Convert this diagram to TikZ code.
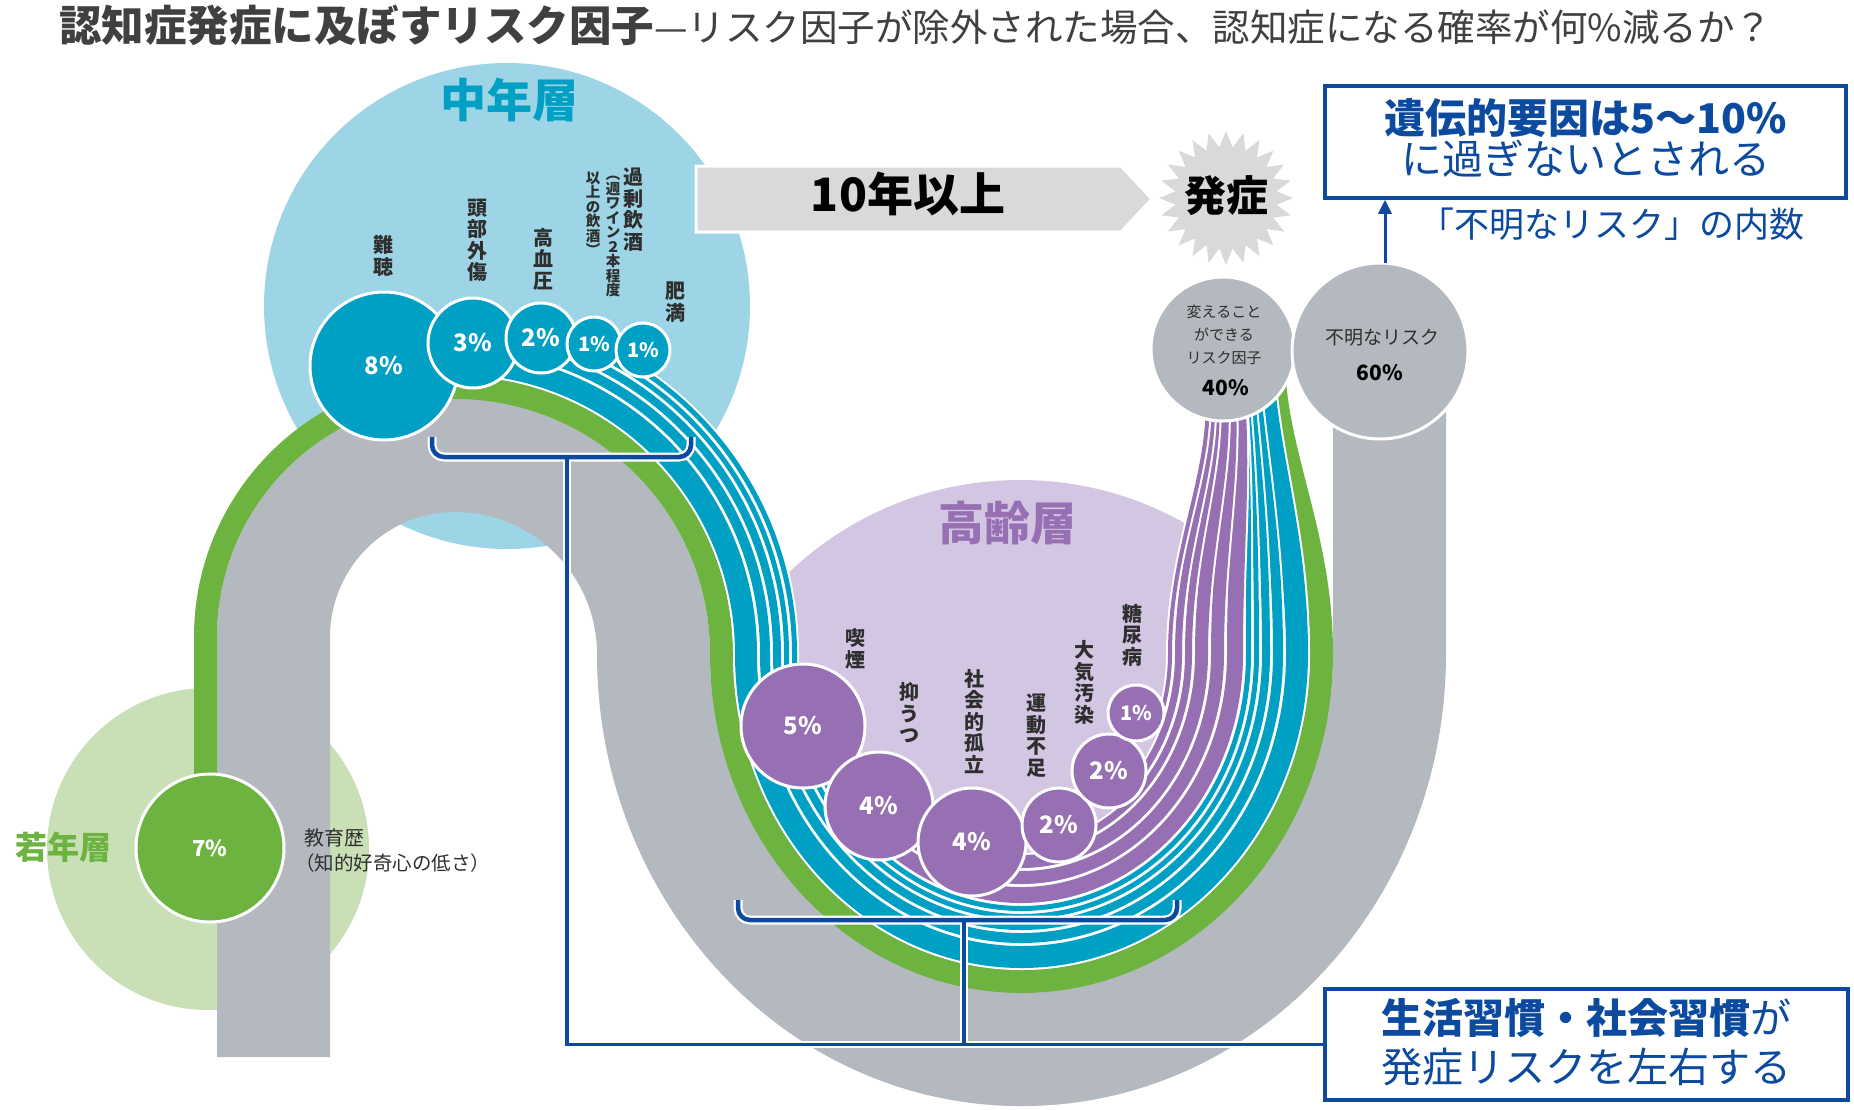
\documentclass[tikz,border=0pt]{standalone}
\usepackage{fontspec}
\setmainfont{Noto Sans CJK JP}
\usetikzlibrary{arrows.meta}
\definecolor{cyanb}{HTML}{00A0C4}
\definecolor{lblue}{HTML}{9DD5E6}
\definecolor{gr}{HTML}{6DB33F}
\definecolor{lgr}{HTML}{C9E0B6}
\definecolor{pu}{HTML}{9670B3}
\definecolor{lav}{HTML}{D3C6E2}
\definecolor{gb}{HTML}{B3B9BF}
\definecolor{ag}{HTML}{D9D9D9}
\definecolor{nb}{HTML}{0B4A9E}
\definecolor{tx}{HTML}{2E2E2E}
\definecolor{tg}{HTML}{404040}

\newcommand\tailpath[1]{.. controls ({1333-#1},-544) and ({1288-0.45*#1},-470) .. ({1280-0.45*#1},-385)}
\newcommand\bowlpath[1]{arc[start angle=180,end angle=360,x radius={311.5-#1},y radius={339-#1}]}
\newcommand\cyanpath[2]{({455+(255+#1)*cos(#2)},{-654+(255+#1)*sin(#2)}) arc[start angle=#2,end angle=0,radius={255+#1}] \bowlpath{#1} \tailpath{#1}}
\newcommand\purpath[2]{({1021.5+(311.5-#1)*cos(#2)},{-654+(339-#1)*sin(#2)}) arc[start angle=#2,end angle=360,x radius={311.5-#1},y radius={339-#1}] \tailpath{#1}}
\newcommand\mystrand[3]{\draw[white,line width={#2pt+4pt}] #3; \draw[#1,line width=#2pt] #3;}

\begin{document}
\begin{tikzpicture}[x=1pt,y=1pt,
  pc/.style={circle,draw=white,line width=3pt,inner sep=0,text=white,font=\bfseries\fontsize{24}{24}\selectfont},
  vlab/.style={align=center,inner sep=0,text=tx,font=\bfseries\fontsize{20}{21.5}\selectfont},
  vsmall/.style={align=center,inner sep=0,text=tx,font=\bfseries\fontsize{14.5}{14.5}\selectfont},
  brk/.style={nb,line width=4.5pt,rounded corners=12pt},
  brkw/.style={white,line width=9pt,rounded corners=12pt},
  conn/.style={nb,line width=3.5pt},
  connw/.style={white,line width=7.5pt},
  bluebox/.style={draw=nb,line width=3.5pt,fill=white,inner sep=0}]

\useasboundingbox (0,0) rectangle (1854,-1109);
\fill[white] (0,0) rectangle (1854,-1109);

% age zones
\fill[lgr] (208,-849) circle[radius=161];
\fill[lblue] (507,-306) circle[radius=243];
\begin{scope}
\clip (1021.5,-654) ellipse[x radius=424.5,y radius=452];
\fill[lav] (1020,-815) circle[radius=335];
\end{scope}

% gray band (unknown risk)
\draw[gb,line width=113pt] (273.5,-1057) -- (273.5,-637)
  arc[start angle=180,end angle=90,radius=181.5]
  arc[start angle=90,end angle=0,radius=198.5]
  arc[start angle=180,end angle=360,x radius=368,y radius=395.5] -- (1389.5,-351);

% green band (young)
\draw[gr,line width=23pt] (205.5,-848) -- (205.5,-637)
  arc[start angle=180,end angle=90,radius=249.5]
  arc[start angle=90,end angle=0,radius=266.5] \bowlpath{11.5} \tailpath{11.5};

% cyan strands (midlife)
\mystrand{cyanb}{22}{({455+274*cos(104.7)},{-637+274*sin(104.7)}) arc[start angle=104.7,end angle=90,radius=274] arc[start angle=90,end angle=0,radius=291] \bowlpath{36} \tailpath{36}}
\mystrand{cyanb}{10}{\cyanpath{55}{86.7}}
\mystrand{cyanb}{8}{\cyanpath{67}{74.8}}
\mystrand{cyanb}{5}{\cyanpath{76.5}{65.8}}
\mystrand{cyanb}{5}{\cyanpath{84.5}{58.3}}

% purple strands (elderly)
\mystrand{pu}{16}{\purpath{98}{190}}
\mystrand{pu}{13}{\purpath{115.5}{223}}
\mystrand{pu}{13}{\purpath{131.5}{253}}
\mystrand{pu}{7}{\purpath{144.5}{284}}
\mystrand{pu}{7}{\purpath{154.5}{311}}
\mystrand{pu}{4}{\purpath{163}{336.5}}

% circles
\node[pc,fill=gr,minimum size=148pt,font=\bfseries\fontsize{22}{22}\selectfont] (c7) at (210,-848) {7\%};
\node[pc,fill=cyanb,minimum size=148pt] (c8) at (384,-366) {8\%};
\node[pc,fill=cyanb,minimum size=90pt] (c3) at (473,-343) {3\%};
\node[pc,fill=cyanb,minimum size=70pt] (c2) at (541,-338) {2\%};
\node[pc,fill=cyanb,minimum size=54pt,font=\bfseries\fontsize{20}{20}\selectfont] (c1a) at (594,-344) {1\%};
\node[pc,fill=cyanb,minimum size=54pt,font=\bfseries\fontsize{20}{20}\selectfont] (c1b) at (643,-350) {1\%};
\node[pc,fill=pu,minimum size=124pt] (e5) at (803,-726) {5\%};
\node[pc,fill=pu,minimum size=108pt] (e4a) at (879,-806) {4\%};
\node[pc,fill=pu,minimum size=108pt] (e4b) at (972,-842) {4\%};
\node[pc,fill=pu,minimum size=74pt] (e2a) at (1059,-825) {2\%};
\node[pc,fill=pu,minimum size=74pt] (e2b) at (1109,-771) {2\%};
\node[pc,fill=pu,minimum size=56pt,font=\bfseries\fontsize{20}{20}\selectfont] (e1) at (1136,-713) {1\%};
\node[pc,fill=gb,minimum size=144pt] (c40) at (1223,-349) {};
\node[pc,fill=gb,minimum size=176pt] (c60) at (1380,-351) {};
\node[align=center,inner sep=0,text=tx,font=\fontsize{15}{23}\selectfont] (c40t) at (1224,-335) {変えること\\ができる\\リスク因子};
\node[inner sep=0,text=black,font=\bfseries\fontsize{21}{21}\selectfont] (c40p) at (1226,-388) {40\%};
\node[inner sep=0,text=tx,font=\fontsize{19}{19}\selectfont] (c60t) at (1382,-338) {不明なリスク};
\node[inner sep=0,text=black,font=\bfseries\fontsize{21}{21}\selectfont] (c60p) at (1380,-373) {60\%};

% zone titles
\node[inner sep=0,text=cyanb,font=\bfseries\fontsize{46}{46}\selectfont] (mid) at (509,-100) {中年層};
\node[inner sep=0,text=pu,font=\bfseries\fontsize{46}{46}\selectfont] (eld) at (1007,-523) {高齢層};
\node[inner sep=0,text=gr,font=\bfseries\fontsize{32}{32}\selectfont] (yng) at (63,-847) {若年層};
\node[anchor=west,inner sep=0,text=tx,font=\fontsize{20}{20}\selectfont] (edu1) at (304,-838) {教育歴};
\node[anchor=west,inner sep=0,text=tx,font=\fontsize{19.5}{20}\selectfont] (edu2) at (295,-863) {（知的好奇心の低さ）};

% vertical labels midlife
\node[vlab] (l8) at (383,-256) {難\\聴};
\node[vlab] (l3) at (477,-240.5) {頭\\部\\外\\傷};
\node[vlab] (l2) at (543,-259) {高\\血\\圧};
\node[vlab] (l1a) at (633,-209.5) {過\\剰\\飲\\酒};
\node[vsmall] (l1b) at (613,-237) {︵\\週\\ワ\\イ\\ン\\２\\本\\程\\度};
\node[vsmall] (l1c) at (593,-213.5) {以\\上\\の\\飲\\酒\\︶};
\node[vlab] (l1d) at (675,-302) {肥\\満};
% vertical labels elderly
\node[vlab] (m5) at (855,-649) {喫\\煙};
\node[vlab] (m4a) at (909,-713) {抑\\う\\つ};
\node[vlab] (m4b) at (974,-721.5) {社\\会\\的\\孤\\立};
\node[vlab] (m2a) at (1036,-735.5) {運\\動\\不\\足};
\node[vlab] (m2b) at (1084,-682.5) {大\\気\\汚\\染};
\node[vlab] (m1) at (1132,-635) {糖\\尿\\病};

% 10 years arrow and onset
\fill[ag,draw=white,line width=3pt] (696,-166) -- (1121,-166) -- (1152,-199) -- (1121,-232) -- (696,-232) -- cycle;
\node[inner sep=0,text=black,font=\bfseries\fontsize{46}{46}\selectfont] (yrs) at (908,-194) {10年以上};
\fill[ag,shift={(1226,-198)}] (90:67) \foreach \i [evaluate=\i as \rr using {mod(\i,2)==0?67:51}] in {1,...,47} { -- ({90+\i*7.5}:\rr) } -- cycle;
\node[inner sep=0,text=black,font=\bfseries\fontsize{42}{42}\selectfont] (onset) at (1226,-196) {発症};

% boxes
\node[bluebox,minimum width=521pt,minimum height=112pt] (box1) at (1585.5,-142) {};
\node[align=center,inner sep=0,text=nb,font=\fontsize{41}{41}\selectfont] (box1t) at (1585.5,-137.5) {{\bfseries 遺伝的要因は5～10\%}\\に過ぎないとされる};
\node[bluebox,minimum width=523pt,minimum height=111pt] (box2) at (1586.5,-1044.5) {};
\node[align=center,inner sep=0,text=nb,font=\fontsize{41}{49}\selectfont] (box2t) at (1586.5,-1042.5) {{\bfseries 生活習慣・社会習慣}が\\発症リスクを左右する};
\node[inner sep=0,text=nb,font=\fontsize{35}{35}\selectfont] (unk) at (1612,-224) {「不明なリスク」の内数};
\coordinate (a60) at (1385,-263);
\draw[nb,line width=3pt,-{Triangle[width=13pt,length=14pt]}] (a60) -- (a60 |- box1.south);

% brackets and connectors
\coordinate (b1m) at (567,-457);
\coordinate (b2m) at (964,-920);
\draw[connw] (b1m) |- (box2.west);
\draw[connw] (b2m) -- (b2m |- box2.west);
\draw[brkw] (432,-437) -- (432,-457) -- (691,-457) -- (691,-437);
\draw[brkw] (738,-900) -- (738,-920) -- (1177,-920) -- (1177,-900);
\draw[conn] (b1m) |- (box2.west);
\draw[conn] (b2m) -- (b2m |- box2.west);
\draw[brk] (432,-437) -- (432,-457) -- (691,-457) -- (691,-437);
\draw[brk] (738,-900) -- (738,-920) -- (1177,-920) -- (1177,-900);

% title
\node[anchor=base west,inner sep=0,text=tg] (title) at (59,-41) {{\bfseries\fontsize{42.5}{44}\selectfont 認知症発症に及ぼすリスク因子}{\fontsize{37.5}{40}\selectfont —リスク因子が除外された場合、認知症になる確率が何\%減るか？}};
\end{tikzpicture}
\end{document}
